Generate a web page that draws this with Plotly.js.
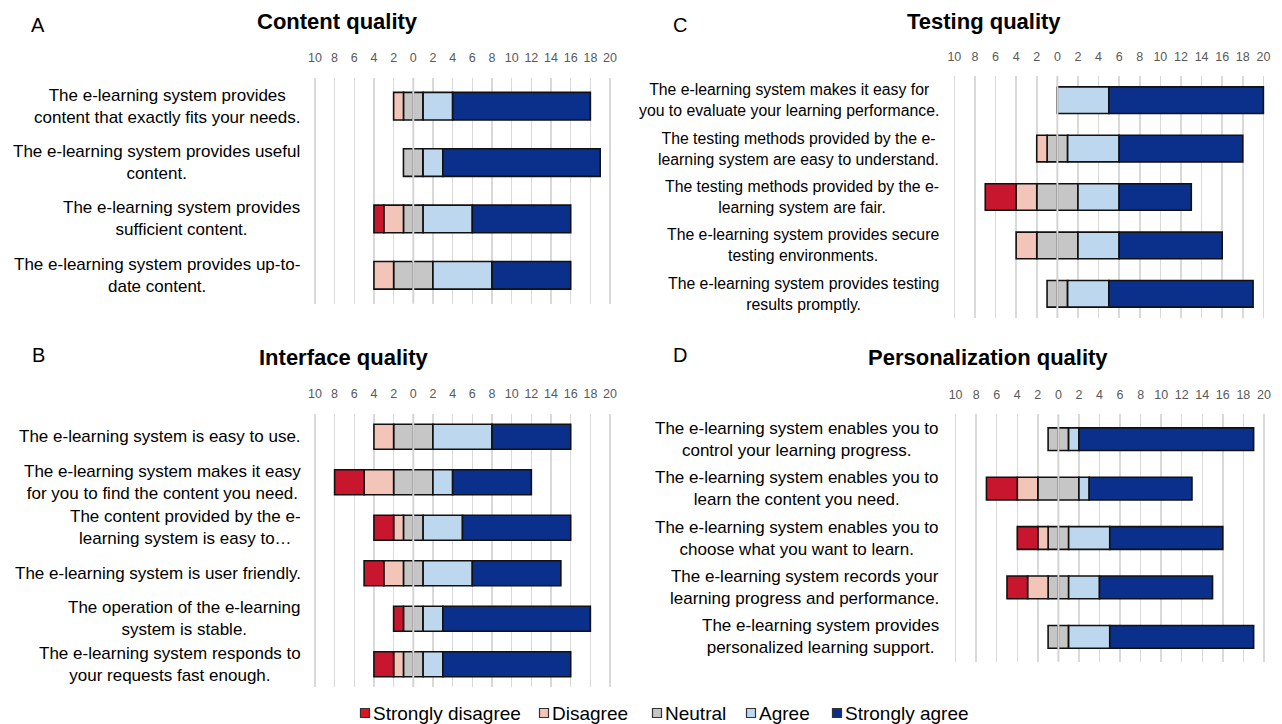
<!DOCTYPE html>
<html>
<head>
<meta charset="utf-8">
<script src="https://cdn.plot.ly/plotly-3.0.1.min.js"></script>
<style>html,body{margin:0;padding:0;background:#fff;} #chart{width:1282px;height:724px;}</style>
</head>
<body>
<div id="chart"></div>
<script>
// ---- Data (counts of respondents, n = 20) ----
const levels = ["Strongly disagree", "Disagree", "Neutral", "Agree", "Strongly agree"];

const catA = [
  "The e-learning system provides<br>content that exactly fits your needs.",
  "The e-learning system provides useful<br>content.",
  "The e-learning system provides<br>sufficient content.",
  "The e-learning system provides up-to-<br>date content."
];
const sdA = [0, 0, 1, 0];
const dA  = [1, 0, 2, 2];
const nA  = [2, 2, 2, 4];
const aA  = [3, 2, 5, 6];
const saA = [14, 16, 10, 8];

const catB = [
  "The e-learning system is easy to use.",
  "The e-learning system makes it easy<br>for you to find the content you need.",
  "The content provided by the e-<br>learning system is easy to…",
  "The e-learning system is user friendly.",
  "The operation of the e-learning<br>system is stable.",
  "The e-learning system responds to<br>your requests fast enough."
];
const sdB = [0, 3, 2, 2, 1, 2];
const dB  = [2, 3, 1, 2, 0, 1];
const nB  = [4, 4, 2, 2, 2, 2];
const aB  = [6, 2, 4, 5, 2, 2];
const saB = [8, 8, 11, 9, 15, 13];

const catC = [
  "The e-learning system makes it easy for<br>you to evaluate your learning performance.",
  "The testing methods provided by the e-<br>learning system are easy to understand.",
  "The testing methods provided by the e-<br>learning system are fair.",
  "The e-learning system provides secure<br>testing environments.",
  "The e-learning system provides testing<br>results promptly."
];
const sdC = [0, 0, 3, 0, 0];
const dC  = [0, 1, 2, 2, 0];
const nC  = [0, 2, 4, 4, 2];
const aC  = [5, 5, 4, 4, 4];
const saC = [15, 12, 7, 10, 14];

const catD = [
  "The e-learning system enables you to<br>control your learning progress.",
  "The e-learning system enables you to<br>learn the content you need.",
  "The e-learning system enables you to<br>choose what you want to learn.",
  "The e-learning system records your<br>learning progress and performance.",
  "The e-learning system provides<br>personalized learning support."
];
const sdD = [0, 3, 2, 2, 0];
const dD  = [0, 2, 1, 2, 0];
const nD  = [2, 4, 2, 2, 2];
const aD  = [1, 1, 4, 3, 4];
const saD = [17, 10, 11, 11, 14];

const tickVals = [-10, -8, -6, -4, -2, 0, 2, 4, 6, 8, 10, 12, 14, 16, 18, 20];
const tickText = ["10", "8", "6", "4", "2", "0", "2", "4", "6", "8", "10", "12", "14", "16", "18", "20"];

const panelTitles = ["Content quality", "Interface quality", "Testing quality", "Personalization quality"];
const panelLetters = ["A", "B", "C", "D"];

// ---- Styles ----
const colors = {sd: "#C8162F", d: "#F3C5B8", n: "#C6C6C6", a: "#BDD7EE", sa: "#0A308C"};
const levelColors = [colors.sd, colors.d, colors.n, colors.a, colors.sa];
const legendSwatch = ["#E0141E", colors.d, colors.n, colors.a, colors.sa];
const FONT = "Liberation Sans, Arial, sans-serif";
const outline = {color: "#111111", width: 1.6};

const panels = [
  {cats: catA, sd: sdA, d: dA, n: nA, a: aA, sa: saA, ax: "", w: 0.49, lf: 17,
   xd: [0.2418, 0.4797], yd: [0.5808, 0.8923], labX: 302, title: [337, 22], letter: [38, 25]},
  {cats: catB, sd: sdB, d: dB, n: nB, a: aB, sa: saB, ax: "2", w: 0.55, lf: 17,
   xd: [0.2418, 0.4797], yd: [0.0511, 0.4282], labX: 303, title: [343, 357], letter: [38, 355]},
  {cats: catC, sd: sdC, d: dC, n: nC, a: aC, sa: saC, ax: "3", w: 0.55, lf: 15.8,
   xd: [0.7404, 0.9895], yd: [0.5608, 0.8950], labX: 941, title: [984, 22], letter: [680, 25]},
  {cats: catD, sd: sdD, d: dD, n: nD, a: aD, sa: saD, ax: "4", w: 0.46, lf: 17,
   xd: [0.7414, 0.9899], yd: [0.0863, 0.4275], labX: 941, title: [988, 357], letter: [680, 355]}
];

// legend layout (pixel positions of swatch centres)
const legendX = [365, 544, 657, 751, 837];
const legendY = 713;

const W = 1282, H = 724;
const traces = [];
const annotations = [];
const shapes = [];
const layout = {
  width: W, height: H,
  margin: {l: 0, r: 0, t: 0, b: 0},
  paper_bgcolor: "#ffffff", plot_bgcolor: "#ffffff",
  barmode: "relative",
  font: {family: FONT, color: "#000"},
  showlegend: false
};

panels.forEach((p, i) => {
  const xa = "x" + p.ax, ya = "y" + p.ax;
  const mk = (name, vals, color) => ({
    type: "bar", orientation: "h", name: name, y: p.cats, x: vals,
    xaxis: xa, yaxis: ya, width: p.w,
    marker: {color: color, line: outline}, hoverinfo: "name+x"
  });
  traces.push(mk(levels[2], p.n.map(v => -v / 2), colors.n));
  traces.push(mk(levels[2], p.n.map(v => v / 2), colors.n));
  traces.push(mk(levels[1], p.d.map(v => -v), colors.d));
  traces.push(mk(levels[0], p.sd.map(v => -v), colors.sd));
  traces.push(mk(levels[3], p.a, colors.a));
  traces.push(mk(levels[4], p.sa, colors.sa));

  layout["xaxis" + p.ax] = {
    domain: p.xd, anchor: ya, range: [-10.5, 20.5], side: "top",
    tickmode: "array", tickvals: tickVals, ticktext: tickText,
    showgrid: true, gridcolor: "#D9D9D9", gridwidth: 1.5,
    zeroline: false, showline: false, ticks: "", ticklabelstandoff: 12,
    tickfont: {family: FONT, size: 12.5, color: "#595959"}, fixedrange: true
  };
  layout["yaxis" + p.ax] = {
    domain: p.yd, anchor: xa, type: "category", autorange: "reversed",
    showticklabels: false, showgrid: false, zeroline: false, showline: false, ticks: "",
    fixedrange: true
  };

  shapes.push({type: "line", xref: xa, yref: ya + " domain", x0: 0, x1: 0, y0: 0, y1: 1,
               line: {color: "#D4D4D4", width: 2}, layer: "above"});

  p.cats.forEach(c => {
    annotations.push({xref: "paper", yref: ya, x: p.labX / W, y: c, xanchor: "right",
      yanchor: "middle", align: "center", showarrow: false, text: c,
      font: {family: FONT, size: p.lf, color: "#000"}});
  });

  annotations.push({xref: "paper", yref: "paper", x: p.title[0] / W, y: 1 - p.title[1] / H,
    xanchor: "center", yanchor: "middle", showarrow: false, text: "<b>" + panelTitles[i] + "</b>",
    font: {family: FONT, size: 22, color: "#000"}});
  annotations.push({xref: "paper", yref: "paper", x: p.letter[0] / W, y: 1 - p.letter[1] / H,
    xanchor: "center", yanchor: "middle", showarrow: false, text: panelLetters[i],
    font: {family: FONT, size: 20, color: "#000"}});
});

// custom legend: small outlined squares + labels
levels.forEach((name, k) => {
  const cx = legendX[k];
  shapes.push({type: "rect", xref: "paper", yref: "paper",
    x0: (cx - 4.5) / W, x1: (cx + 4.5) / W, y0: 1 - (legendY + 4.5) / H, y1: 1 - (legendY - 4.5) / H,
    fillcolor: legendSwatch[k], line: {color: "#333333", width: 1.2}, layer: "above"});
  annotations.push({xref: "paper", yref: "paper", x: (cx + 6) / W, y: 1 - legendY / H,
    xanchor: "left", yanchor: "middle", showarrow: false, text: name,
    font: {family: FONT, size: 19, color: "#000"}});
});

layout.annotations = annotations;
layout.shapes = shapes;

Plotly.newPlot("chart", traces, layout, {displayModeBar: false, staticPlot: true});
</script>
</body>
</html>
